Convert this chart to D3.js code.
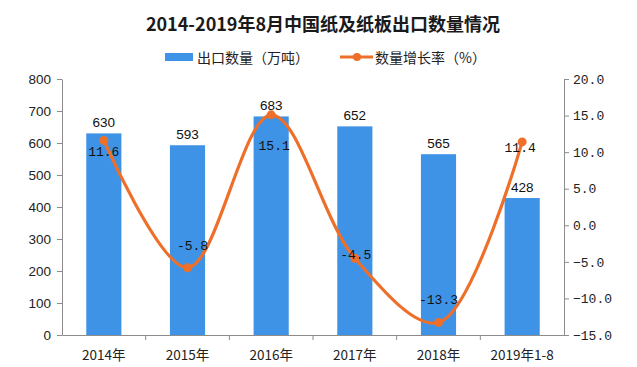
<!DOCTYPE html>
<html><head><meta charset="utf-8">
<script src="https://cdn.jsdelivr.net/npm/d3@7"></script>
<style>body{margin:0;background:#fff}svg{display:block}</style>
</head><body>
<svg id="c" width="637" height="367"></svg>
<script>
const categories = ["2014年","2015年","2016年","2017年","2018年","2019年1-8"];
const exportVolume = [630, 593, 683, 652, 565, 428];
const growthRate = [11.6, -5.8, 15.1, -4.5, -13.3, 11.4];
const leftTicks = [0,100,200,300,400,500,600,700,800];
const rightTicks = [-15,-10,-5,0,5,10,15,20];
const title = "2014-2019年8月中国纸及纸板出口数量情况";
const legendNames = ["出口数量（万吨）","数量增长率（%）"];

// label placement (style): vertical offset of growth labels relative to point
const growthLabelDy = [12, -21, 32, -3, -22, 7];
const growthLabelDx = [0, 5, 3, 1, 0, -2];

const svg = d3.select("#c");
const W = 637, H = 367;
const m = {l:62, r:73, t:79, b:32};
const x0 = m.l, x1 = W - m.r, y0 = H - m.b, y1 = m.t;
const blue = "#3f93e6", orange = "#ee6f2a", axisCol = "#8c8c8c";
const monoFont = "'Liberation Mono', 'DejaVu Sans Mono', monospace";
const sansFont = "'Liberation Sans', Arial, sans-serif";
const cjk = "'Noto Sans CJK SC', sans-serif";

const x = d3.scaleBand().domain(categories).range([x0, x1]).paddingInner(0.58).paddingOuter(0.29);
const xb = d3.scaleBand().domain(categories).range([x0, x1]);
const yL = d3.scaleLinear().domain([0, 800]).range([y0, y1]);
const yR = d3.scaleLinear().domain([-15, 20]).range([y0, y1]);

// title
svg.append("text").attr("x", 323).attr("y", 23).attr("text-anchor","middle")
  .attr("dominant-baseline","central").attr("font-family", cjk).attr("font-weight","bold")
  .attr("font-size", 18).attr("fill","#1a1a1a").text(title);

// legend
const lg = svg.append("g");
lg.append("rect").attr("x",165).attr("y",53).attr("width",28).attr("height",8).attr("fill",blue);
lg.append("text").attr("x",197).attr("y",57).attr("dominant-baseline","central")
  .attr("font-family",cjk).attr("font-size",14).attr("fill","#222").text(legendNames[0]);
lg.append("line").attr("x1",340).attr("x2",373).attr("y1",57).attr("y2",57).attr("stroke",orange).attr("stroke-width",3);
lg.append("circle").attr("cx",357).attr("cy",57).attr("r",4).attr("fill",orange);
lg.append("text").attr("x",375).attr("y",57).attr("dominant-baseline","central")
  .attr("font-family",cjk).attr("font-size",14).attr("fill","#222").text(legendNames[1]);

// bars
svg.append("g").selectAll("rect").data(exportVolume).join("rect")
  .attr("x",(d,i)=>x(categories[i])).attr("width",x.bandwidth())
  .attr("y",d=>yL(d)).attr("height",d=>y0-yL(d)).attr("fill",blue);

// axes
const leftAxis = svg.append("g").attr("transform",`translate(${x0},0)`)
  .call(d3.axisLeft(yL).tickValues(leftTicks).tickSize(5).tickPadding(6).tickSizeOuter(0));
const rightAxis = svg.append("g").attr("transform",`translate(${x1},0)`)
  .call(d3.axisRight(yR).tickValues(rightTicks).tickFormat(d3.format(".1f")).tickSize(5).tickPadding(4).tickSizeOuter(0));
const bottomAxis = svg.append("g").attr("transform",`translate(0,${y0})`)
  .call(d3.axisBottom(xb).tickSize(0).tickPadding(20).tickSizeOuter(0));
// band boundary ticks
svg.append("g").selectAll("line").data(categories.slice(1)).join("line")
  .attr("x1",d=>xb(d)).attr("x2",d=>xb(d)).attr("y1",y0).attr("y2",y0+5).attr("stroke",axisCol);

[leftAxis,rightAxis,bottomAxis].forEach(g=>{
  g.selectAll("path,line").attr("stroke",axisCol);
  g.selectAll("text").attr("font-family",monoFont).attr("font-size",13).attr("fill","#222");
});
leftAxis.selectAll("text").attr("font-family", sansFont).attr("font-size",13.5);
bottomAxis.selectAll("text").attr("font-family", cjk).attr("font-size",13.5).attr("dy","0.32em").attr("y", 21);

// bar value labels
svg.append("g").selectAll("text").data(exportVolume).join("text")
  .attr("x",(d,i)=>x(categories[i])+x.bandwidth()/2).attr("y",d=>yL(d)-6)
  .attr("text-anchor","middle").attr("font-family",sansFont).attr("font-size",13.5).attr("fill","#111")
  .text(d=>d);

// growth line
const cx = (d,i)=>xb(categories[i])+xb.bandwidth()/2;
const line = d3.line().x(cx).y(d=>yR(d)).curve(d3.curveCatmullRom.alpha(0.5));
svg.append("path").datum(growthRate).attr("d",line).attr("fill","none")
  .attr("stroke",orange).attr("stroke-width",3.2);
svg.append("g").selectAll("circle").data(growthRate).join("circle")
  .attr("cx",cx).attr("cy",d=>yR(d)).attr("r",4.5).attr("fill",orange);

// growth labels
svg.append("g").selectAll("text").data(growthRate).join("text")
  .attr("x",(d,i)=>cx(d,i)+growthLabelDx[i]).attr("y",(d,i)=>yR(d)+growthLabelDy[i])
  .attr("text-anchor","middle").attr("dominant-baseline","central")
  .attr("font-family",monoFont).attr("font-size",13).attr("fill","#111")
  .text(d=>d.toFixed(1));
</script>
</body></html>
